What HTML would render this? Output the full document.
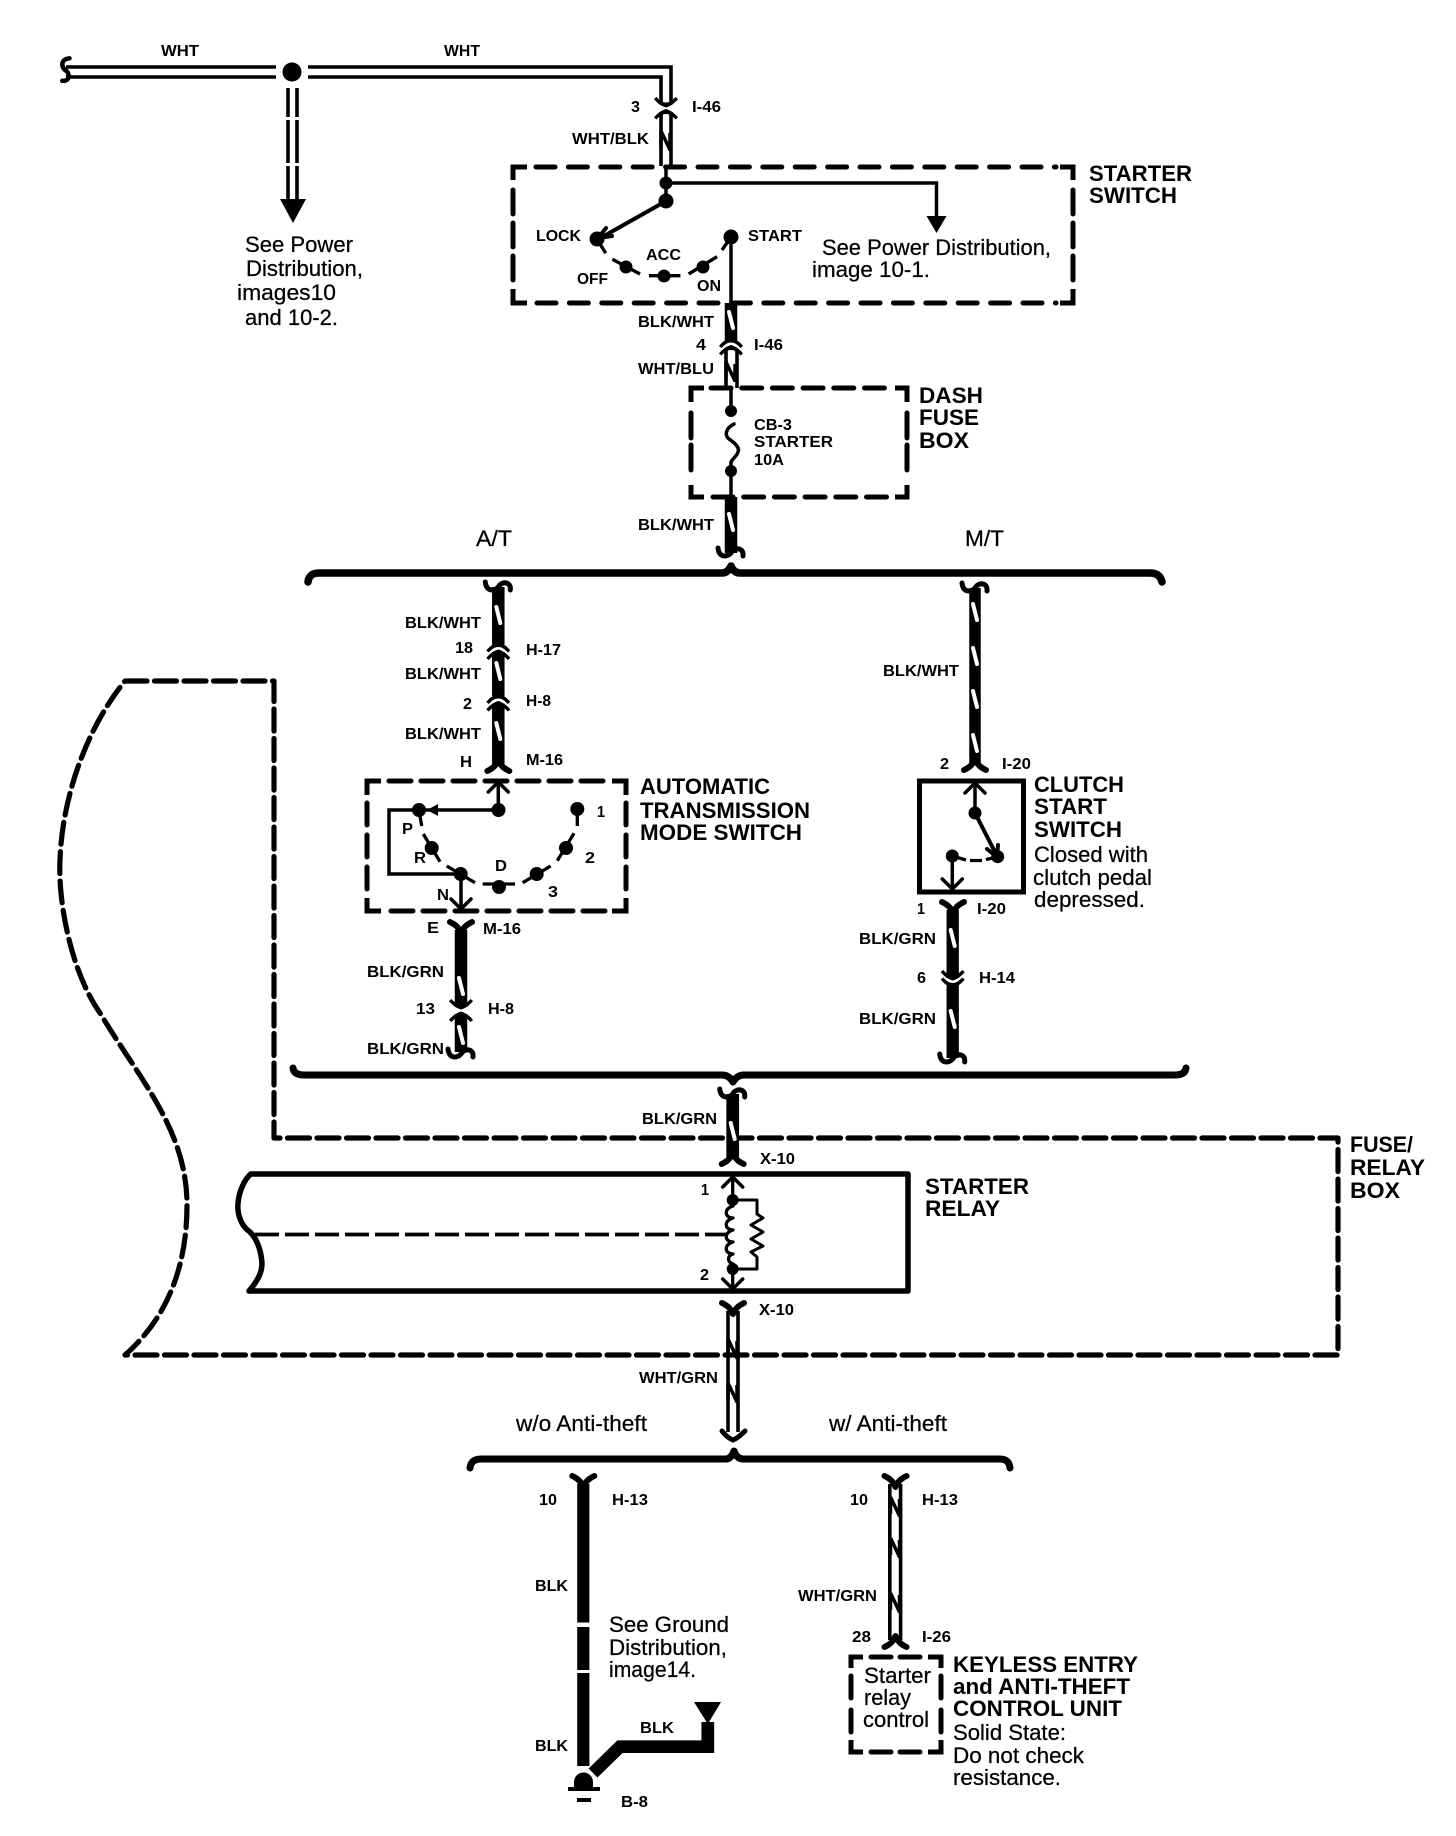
<!DOCTYPE html>
<html><head><meta charset="utf-8"><title>Starter circuit diagram</title>
<style>
html,body{margin:0;padding:0;background:#fff}
svg{display:block}
text{font-family:"Liberation Sans",Arial,sans-serif;fill:#000}
.s{font-size:16px;font-weight:bold}
.r{font-size:22px;stroke:#000;stroke-width:.25}
.b{font-size:22px;font-weight:bold}
.w{fill:none;stroke:#000;stroke-linecap:butt;stroke-linejoin:miter}
.c{fill:none;stroke:#000;stroke-linecap:round;stroke-linejoin:round}
.sl{fill:none;stroke:#fff;stroke-width:4;stroke-linecap:round}
</style></head><body>
<svg xmlns="http://www.w3.org/2000/svg" width="1456" height="1836" viewBox="0 0 1456 1836">
<defs>
<path id="fu" class="c" stroke-width="6" d="M-11 0C-7 2-3 4 0 11C3 4 7 2 11 0"/>
<path id="fd" class="c" stroke-width="6" d="M-11 0C-7-2-3-4 0-11C3-4 7-2 11 0"/>
<path id="cu" class="c" stroke-width="5" d="M-13-5C-12 4-5 5 0 0C3-6 13-6 12 3"/>
<path id="ar" d="M-12 6C-9 2-5-1 0-2.5C5-1 9 2 12 6L9.5 8C6 4 3 2.5 0 2.5C-3 2.5-6 4-9.5 8Z"/>
<path id="cup" d="M-12-6C-9-2-5 1 0 2.5C5 1 9-2 12-6L9.5-8C6-4 3-2.5 0-2.5C-3-2.5-6-4-9.5-8Z"/>
<path id="sl" class="sl" d="M-2-8L2 8"/>
<g id="nz"><path class="w" stroke-width="3.5" d="M-5-10L4 9M4-8V10M-5-10V7"/></g>
<path id="chU" class="c" stroke-width="3.5" d="M-10 10L0 0L10 10"/>
<path id="chD" class="c" stroke-width="3.5" d="M-10-10L0 0L10-10"/>
</defs>

<!-- top wires -->
<path class="w" stroke-width="3.6" d="M66 67H276M66 77H276M308 67H671V104M308 77H661V104M661 112V166M671 112V166"/>
<use href="#cu" transform="translate(65,70) rotate(90) scale(.9)"/>
<circle cx="292" cy="72" r="9.5"/>
<path class="w" stroke-width="3.6" d="M288 88V117M297 88V117M288 120V163M297 120V163M288 166V200M297 166V200"/>
<path d="M280 199H306L293 223Z"/>
<use href="#cup" x="666" y="105"/>
<use href="#ar" x="666" y="111.5"/>
<use href="#nz" x="666" y="141"/>
<text class="s" x="161" y="56" textLength="38" lengthAdjust="spacingAndGlyphs">WHT</text>
<text class="s" x="444" y="56" textLength="36" lengthAdjust="spacingAndGlyphs">WHT</text>
<text class="s" x="631" y="112" textLength="9" lengthAdjust="spacingAndGlyphs">3</text>
<text class="s" x="692" y="112" textLength="29" lengthAdjust="spacingAndGlyphs">I-46</text>
<text class="s" x="572" y="144" textLength="77" lengthAdjust="spacingAndGlyphs">WHT/BLK</text>
<text class="r" x="245" y="252" textLength="108" lengthAdjust="spacingAndGlyphs">See Power</text>
<text class="r" x="246" y="276" textLength="117" lengthAdjust="spacingAndGlyphs">Distribution,</text>
<text class="r" x="237" y="300" textLength="99" lengthAdjust="spacingAndGlyphs">images10</text>
<text class="r" x="245" y="325" textLength="93" lengthAdjust="spacingAndGlyphs">and 10-2.</text>

<!-- starter switch box -->
<path class="w" stroke-width="5" d="M513 180V167H527M1060 167H1073V180M513 289V303H527M1060 303H1073V289"/>
<path class="c" stroke-width="5" stroke-dasharray="19 13.4" d="M536 167H1056"/>
<path class="c" stroke-width="5" stroke-dasharray="19 13.4" d="M537 303H1056"/>
<path class="c" stroke-width="5" stroke-dasharray="24 9" d="M513 190V283"/>
<path class="c" stroke-width="5" stroke-dasharray="24 9" d="M1073 190V283"/>
<path class="w" stroke-width="3.5" d="M666 166V200M666 183H936.5V217"/>
<circle cx="666" cy="183" r="6.5"/><circle cx="666" cy="201" r="7.5"/>
<path d="M926.5 216H946.5L936.5 233Z"/>
<path class="c" stroke-width="4" d="M666 201L597 240M598 238L606 228M598 238L612 236"/>
<circle cx="597" cy="239" r="7.5"/><circle cx="626" cy="267" r="6.5"/><circle cx="664" cy="276" r="6.5"/><circle cx="703" cy="267" r="6.5"/><circle cx="731" cy="237" r="7.5"/>
<path class="w" stroke-width="3.4" d="M597 239L605.7 253.3M612.4 259.3L640 274M649 275.7H680.4M688.7 274L717 256.7M722 250L731 237"/>
<path class="w" stroke-width="3.5" d="M731 237V304"/>
<text class="s" x="536" y="241" textLength="45" lengthAdjust="spacingAndGlyphs">LOCK</text>
<text class="s" x="748" y="241" textLength="54" lengthAdjust="spacingAndGlyphs">START</text>
<text class="s" x="646" y="260" textLength="35" lengthAdjust="spacingAndGlyphs">ACC</text>
<text class="s" x="577" y="284" textLength="31" lengthAdjust="spacingAndGlyphs">OFF</text>
<text class="s" x="697" y="291" textLength="24" lengthAdjust="spacingAndGlyphs">ON</text>
<text class="r" x="822" y="255" textLength="229" lengthAdjust="spacingAndGlyphs">See Power Distribution,</text>
<text class="r" x="812" y="277" textLength="118" lengthAdjust="spacingAndGlyphs">image 10-1.</text>
<text class="b" x="1089" y="181" textLength="103" lengthAdjust="spacingAndGlyphs">STARTER</text>
<text class="b" x="1089" y="203" textLength="88" lengthAdjust="spacingAndGlyphs">SWITCH</text>

<!-- I-46 lower -->
<path class="w" stroke-width="12.5" d="M731 303V340"/>
<use href="#sl" x="731" y="320"/>
<use href="#ar" x="731" y="340"/>
<use href="#ar" x="731" y="347.5"/>
<path class="w" stroke-width="3.6" d="M726 349V388M737 349V388"/>
<use href="#nz" x="731" y="372"/>
<text class="s" x="638" y="327" textLength="76" lengthAdjust="spacingAndGlyphs">BLK/WHT</text>
<text class="s" x="696" y="350" textLength="10" lengthAdjust="spacingAndGlyphs">4</text>
<text class="s" x="754" y="350" textLength="29" lengthAdjust="spacingAndGlyphs">I-46</text>
<text class="s" x="638" y="374" textLength="76" lengthAdjust="spacingAndGlyphs">WHT/BLU</text>

<!-- dash fuse box -->
<path class="w" stroke-width="5" d="M691 402V388H704M895 388H907V402M691 485V497H704M895 497H907V485"/>
<path class="c" stroke-width="5" stroke-dasharray="20 10.7" d="M711 388H890"/>
<path class="c" stroke-width="5" stroke-dasharray="20 10.7" d="M713 497H890"/>
<path class="c" stroke-width="5" stroke-dasharray="25 7" d="M691 413V474"/>
<path class="c" stroke-width="5" stroke-dasharray="25 7" d="M907 413V474"/>
<path class="w" stroke-width="3.5" d="M731 388V411M731 462V497"/>
<circle cx="731" cy="411" r="6"/><circle cx="731" cy="471" r="6"/>
<path class="c" stroke-width="3.5" d="M734 424C726 428 724 435 729 439C735 443 740 448 738 452C737 456 733 458 731 462"/>
<text class="s" x="754" y="430" textLength="38" lengthAdjust="spacingAndGlyphs">CB-3</text>
<text class="s" x="754" y="447" textLength="79" lengthAdjust="spacingAndGlyphs">STARTER</text>
<text class="s" x="754" y="465" textLength="30" lengthAdjust="spacingAndGlyphs">10A</text>
<text class="b" x="919" y="403" textLength="64" lengthAdjust="spacingAndGlyphs">DASH</text>
<text class="b" x="919" y="425" textLength="60" lengthAdjust="spacingAndGlyphs">FUSE</text>
<text class="b" x="919" y="448" textLength="50" lengthAdjust="spacingAndGlyphs">BOX</text>

<path class="w" stroke-width="12.5" d="M731 497V553"/>
<use href="#sl" x="731" y="522"/>
<use href="#cu" x="731" y="553"/>
<text class="s" x="638" y="530" textLength="76" lengthAdjust="spacingAndGlyphs">BLK/WHT</text>
<text class="r" x="476" y="546" textLength="36" lengthAdjust="spacingAndGlyphs">A/T</text>
<text class="r" x="965" y="546" textLength="39" lengthAdjust="spacingAndGlyphs">M/T</text>

<!-- brace 1 -->
<path class="c" stroke-width="7.5" d="M308 582Q309 573 319 573H722Q728 573 731 566Q734 573 740 573H1150Q1160 573 1162 582"/>

<!-- AT column -->
<path class="w" stroke-width="12.5" d="M498.3 587V644.5M498.3 652V696M498.3 703.5V764"/>
<use href="#cu" x="498.3" y="587"/>
<use href="#sl" x="498.3" y="615"/><use href="#sl" x="498.3" y="671"/><use href="#sl" x="498.3" y="731"/>
<use href="#ar" x="498.3" y="644.5"/><use href="#ar" x="498.3" y="652"/>
<use href="#ar" x="498.3" y="696"/><use href="#ar" x="498.3" y="703.5"/>
<use href="#fd" x="498.3" y="771"/>
<text class="s" x="405" y="628" textLength="76" lengthAdjust="spacingAndGlyphs">BLK/WHT</text>
<text class="s" x="405" y="679" textLength="76" lengthAdjust="spacingAndGlyphs">BLK/WHT</text>
<text class="s" x="405" y="739" textLength="76" lengthAdjust="spacingAndGlyphs">BLK/WHT</text>
<text class="s" x="455" y="653" textLength="18" lengthAdjust="spacingAndGlyphs">18</text>
<text class="s" x="526" y="655" textLength="35" lengthAdjust="spacingAndGlyphs">H-17</text>
<text class="s" x="463" y="709" textLength="9" lengthAdjust="spacingAndGlyphs">2</text>
<text class="s" x="526" y="706" textLength="25" lengthAdjust="spacingAndGlyphs">H-8</text>
<text class="s" x="460" y="767" textLength="12" lengthAdjust="spacingAndGlyphs">H</text>
<text class="s" x="526" y="765" textLength="37" lengthAdjust="spacingAndGlyphs">M-16</text>

<!-- AT box -->
<path class="w" stroke-width="5" d="M367 795V781H381M612 781H626V795M367 898V911H381M612 911H626V898"/>
<path class="c" stroke-width="5" stroke-dasharray="22 10" d="M389 781H608"/>
<path class="c" stroke-width="5" stroke-dasharray="22 10" d="M391 911H608"/>
<path class="c" stroke-width="5" stroke-dasharray="22 10" d="M367 803V890"/>
<path class="c" stroke-width="5" stroke-dasharray="22 10" d="M626 803V890"/>
<path class="w" stroke-width="3.5" d="M498.3 783V810H389V874H461V909"/>
<use href="#chU" x="498.3" y="782"/>
<use href="#chD" x="461" y="909"/>
<path d="M427 810L438 804V816Z"/>
<circle cx="498.5" cy="810" r="7"/>
<circle cx="419" cy="810" r="7"/><circle cx="431.7" cy="848" r="7"/><circle cx="460.7" cy="874" r="7"/><circle cx="499" cy="887" r="7"/><circle cx="536.7" cy="874" r="7"/><circle cx="566" cy="848" r="7"/><circle cx="577.3" cy="809" r="7"/>
<path class="w" stroke-width="3.3" d="M419 810L421.7 826M423.3 834L440 861.7M446.7 866L475 882.7M482.7 884L515 884M522.7 882.7L550.7 866M557.3 860.7L574 833.3M577.3 826V809"/>
<text class="s" x="402" y="834" textLength="11" lengthAdjust="spacingAndGlyphs">P</text>
<text class="s" x="414" y="863" textLength="12" lengthAdjust="spacingAndGlyphs">R</text>
<text class="s" x="437" y="900" textLength="12" lengthAdjust="spacingAndGlyphs">N</text>
<text class="s" x="495" y="871" textLength="12" lengthAdjust="spacingAndGlyphs">D</text>
<text class="s" x="548" y="897" textLength="10" lengthAdjust="spacingAndGlyphs">3</text>
<text class="s" x="585" y="863" textLength="10" lengthAdjust="spacingAndGlyphs">2</text>
<text class="s" x="597" y="817" textLength="8" lengthAdjust="spacingAndGlyphs">1</text>
<text class="b" x="640" y="794" textLength="130" lengthAdjust="spacingAndGlyphs">AUTOMATIC</text>
<text class="b" x="640" y="818" textLength="170" lengthAdjust="spacingAndGlyphs">TRANSMISSION</text>
<text class="b" x="640" y="840" textLength="162" lengthAdjust="spacingAndGlyphs">MODE SWITCH</text>

<text class="s" x="427" y="933" textLength="12" lengthAdjust="spacingAndGlyphs">E</text>
<text class="s" x="483" y="934" textLength="38" lengthAdjust="spacingAndGlyphs">M-16</text>
<use href="#fu" x="461" y="922"/>
<path class="w" stroke-width="12.5" d="M461 930V1007M461 1014V1052"/>
<use href="#sl" x="461" y="986"/><use href="#sl" x="461" y="1035"/>
<use href="#cup" x="461" y="1007"/><use href="#ar" x="461" y="1014"/>
<use href="#cu" x="461" y="1054"/>
<text class="s" x="367" y="977" textLength="77" lengthAdjust="spacingAndGlyphs">BLK/GRN</text>
<text class="s" x="416" y="1014" textLength="19" lengthAdjust="spacingAndGlyphs">13</text>
<text class="s" x="488" y="1014" textLength="26" lengthAdjust="spacingAndGlyphs">H-8</text>
<text class="s" x="367" y="1054" textLength="77" lengthAdjust="spacingAndGlyphs">BLK/GRN</text>

<!-- MT column -->
<path class="w" stroke-width="11.5" d="M975 588V763"/>
<use href="#cu" x="975" y="588"/>
<use href="#sl" x="975" y="612"/><use href="#sl" x="975" y="656"/><use href="#sl" x="975" y="699"/><use href="#sl" x="975" y="743"/>
<use href="#fd" x="975" y="770"/>
<text class="s" x="883" y="676" textLength="76" lengthAdjust="spacingAndGlyphs">BLK/WHT</text>
<text class="s" x="940" y="769" textLength="9" lengthAdjust="spacingAndGlyphs">2</text>
<text class="s" x="1002" y="769" textLength="29" lengthAdjust="spacingAndGlyphs">I-20</text>
<rect class="w" stroke-width="5" x="919.5" y="781" width="104" height="111"/>
<path class="w" stroke-width="3.5" d="M975 783V813M952.3 856V890"/>
<use href="#chU" x="975" y="783"/>
<use href="#chD" x="952.3" y="889"/>
<path class="c" stroke-width="4" d="M975 813L997 856M987 849L997 857L998 845"/>
<circle cx="975" cy="813" r="6.5"/><circle cx="997.7" cy="856.7" r="6.5"/><circle cx="952.3" cy="856" r="6.5"/>
<path class="w" stroke-width="3.3" d="M952 856L966 860M970 860.5H982M986 859.5L997 857"/>
<text class="b" x="1034" y="792" textLength="90" lengthAdjust="spacingAndGlyphs">CLUTCH</text>
<text class="b" x="1034" y="814" textLength="73" lengthAdjust="spacingAndGlyphs">START</text>
<text class="b" x="1034" y="837" textLength="88" lengthAdjust="spacingAndGlyphs">SWITCH</text>
<text class="r" x="1034" y="862" textLength="114" lengthAdjust="spacingAndGlyphs">Closed with</text>
<text class="r" x="1033" y="885" textLength="119" lengthAdjust="spacingAndGlyphs">clutch pedal</text>
<text class="r" x="1034" y="907" textLength="111" lengthAdjust="spacingAndGlyphs">depressed.</text>
<text class="s" x="917" y="914" textLength="8" lengthAdjust="spacingAndGlyphs">1</text>
<text class="s" x="977" y="914" textLength="29" lengthAdjust="spacingAndGlyphs">I-20</text>
<use href="#fu" x="953" y="902"/>
<path class="w" stroke-width="12.3" d="M952.7 910V978M952.7 985.5V1058"/>
<use href="#sl" x="952.7" y="938"/><use href="#sl" x="952.7" y="1019"/>
<use href="#cup" x="952.7" y="978"/><use href="#cup" x="952.7" y="985.5"/>
<use href="#cu" x="952.7" y="1059"/>
<text class="s" x="859" y="944" textLength="77" lengthAdjust="spacingAndGlyphs">BLK/GRN</text>
<text class="s" x="917" y="983" textLength="9" lengthAdjust="spacingAndGlyphs">6</text>
<text class="s" x="979" y="983" textLength="36" lengthAdjust="spacingAndGlyphs">H-14</text>
<text class="s" x="859" y="1024" textLength="77" lengthAdjust="spacingAndGlyphs">BLK/GRN</text>

<!-- brace 2 -->
<path class="c" stroke-width="7" d="M293 1068Q294 1075 304 1075H722Q729 1075 733 1082Q737 1075 744 1075H1175Q1185 1075 1186 1068"/>

<!-- fuse/relay dashed -->
<path class="c" stroke-width="5.2" stroke-dasharray="22 7.5" d="M125 681H274V1138H1338V1355H125C165 1320 187 1270 187 1205C187 1130 140 1080 100 1013C70 970 58 900 60 860C62 800 85 730 125 681Z"/>
<text class="b" x="1350" y="1152" textLength="63" lengthAdjust="spacingAndGlyphs">FUSE/</text>
<text class="b" x="1350" y="1175" textLength="75" lengthAdjust="spacingAndGlyphs">RELAY</text>
<text class="b" x="1350" y="1198" textLength="50" lengthAdjust="spacingAndGlyphs">BOX</text>

<!-- X-10 top wire -->
<path class="w" stroke-width="12.7" d="M732.7 1094V1158"/>
<use href="#cu" x="732.7" y="1094"/>
<use href="#sl" x="732.7" y="1131"/>
<use href="#fd" x="732.7" y="1164"/>
<text class="s" x="642" y="1124" textLength="75" lengthAdjust="spacingAndGlyphs">BLK/GRN</text>
<text class="s" x="760" y="1164" textLength="35" lengthAdjust="spacingAndGlyphs">X-10</text>

<!-- relay -->
<path class="c" stroke-width="5.5" d="M250.7 1174H908V1291H249L253 1286C259 1278 263 1270 261.7 1260C260 1246 256 1238 250 1232C241 1226 237 1214 238 1203C239 1192 244 1180 250.7 1174Z"/>
<path class="w" stroke-width="3.8" stroke-dasharray="24 6" d="M255 1234.5H726"/>
<path class="w" stroke-width="3.3" d="M732.7 1178V1200M732.7 1269V1289"/>
<use href="#chU" x="732.7" y="1177"/>
<use href="#chD" x="732.7" y="1289"/>
<circle cx="732.7" cy="1200" r="6"/><circle cx="732.7" cy="1269" r="6"/>
<path class="c" stroke-width="3.3" d="M733 1206C724 1208 724 1218 733 1218C724 1220 724 1230 733 1230C724 1232 724 1242 733 1242C724 1244 724 1254 733 1254C727 1256 727 1262 733 1264"/>
<path class="c" stroke-width="3" d="M733 1200H757V1214L763 1218L751 1225L763 1232L751 1239L763 1246L751 1252L757 1257V1269H733"/>
<text class="s" x="701" y="1195" textLength="8" lengthAdjust="spacingAndGlyphs">1</text>
<text class="s" x="700" y="1280" textLength="9" lengthAdjust="spacingAndGlyphs">2</text>
<text class="b" x="925" y="1194" textLength="104" lengthAdjust="spacingAndGlyphs">STARTER</text>
<text class="b" x="925" y="1216" textLength="75" lengthAdjust="spacingAndGlyphs">RELAY</text>

<!-- X-10 lower wire -->
<use href="#fu" x="733" y="1303"/>
<path class="w" stroke-width="3.6" d="M728 1311V1432M738 1311V1432"/>
<use href="#nz" x="733" y="1349"/><use href="#nz" x="733" y="1393"/>
<path class="c" stroke-width="5" d="M722 1431C726 1436 730 1439 733 1440C736 1439 740 1436 745 1431"/>
<text class="s" x="759" y="1315" textLength="35" lengthAdjust="spacingAndGlyphs">X-10</text>
<text class="s" x="639" y="1383" textLength="79" lengthAdjust="spacingAndGlyphs">WHT/GRN</text>
<text class="r" x="516" y="1431" textLength="131" lengthAdjust="spacingAndGlyphs">w/o Anti-theft</text>
<text class="r" x="829" y="1431" textLength="118" lengthAdjust="spacingAndGlyphs">w/ Anti-theft</text>

<!-- brace 3 -->
<path class="c" stroke-width="7" d="M470 1468Q471 1459 481 1459H726Q731 1459 734 1451Q737 1459 743 1459H1000Q1009 1459 1010 1468"/>

<!-- BLK -->
<use href="#fu" x="583.3" y="1476"/>
<path class="w" stroke-width="12.2" d="M583.3 1484V1622.5M583.3 1627V1670M583.3 1673V1766"/>
<path d="M574 1788V1782A9.5 9.5 0 0 1 593 1782V1788Z"/>
<path class="w" stroke-width="4" d="M568 1789H600M577 1800H591"/>
<path class="w" stroke-width="12.7" d="M593 1773L620 1746.7H707.8V1722"/>
<path d="M694 1702H721L707.8 1724Z"/>
<text class="s" x="539" y="1505" textLength="18" lengthAdjust="spacingAndGlyphs">10</text>
<text class="s" x="612" y="1505" textLength="36" lengthAdjust="spacingAndGlyphs">H-13</text>
<text class="s" x="535" y="1591" textLength="33" lengthAdjust="spacingAndGlyphs">BLK</text>
<text class="s" x="535" y="1751" textLength="33" lengthAdjust="spacingAndGlyphs">BLK</text>
<text class="s" x="640" y="1733" textLength="34" lengthAdjust="spacingAndGlyphs">BLK</text>
<text class="s" x="621" y="1807" textLength="27" lengthAdjust="spacingAndGlyphs">B-8</text>
<text class="r" x="609" y="1632" textLength="120" lengthAdjust="spacingAndGlyphs">See Ground</text>
<text class="r" x="609" y="1655" textLength="118" lengthAdjust="spacingAndGlyphs">Distribution,</text>
<text class="r" x="609" y="1677" textLength="87" lengthAdjust="spacingAndGlyphs">image14.</text>

<!-- WHT/GRN right -->
<use href="#fu" x="895.5" y="1476"/>
<path class="w" stroke-width="3.6" d="M889.8 1484V1640M900.6 1484V1640"/>
<use href="#nz" x="895.5" y="1507"/><use href="#nz" x="895.5" y="1548"/><use href="#nz" x="895.5" y="1603"/>
<use href="#fd" x="895.5" y="1647"/>
<text class="s" x="850" y="1505" textLength="18" lengthAdjust="spacingAndGlyphs">10</text>
<text class="s" x="922" y="1505" textLength="36" lengthAdjust="spacingAndGlyphs">H-13</text>
<text class="s" x="798" y="1601" textLength="79" lengthAdjust="spacingAndGlyphs">WHT/GRN</text>
<text class="s" x="852" y="1642" textLength="19" lengthAdjust="spacingAndGlyphs">28</text>
<text class="s" x="922" y="1642" textLength="29" lengthAdjust="spacingAndGlyphs">I-26</text>

<path class="w" stroke-width="5" d="M851 1668V1657H863M928 1657H941V1668M851 1740V1752H863M928 1752H941V1740"/>
<path class="c" stroke-width="5" stroke-dasharray="20 9" d="M871 1657H923"/>
<path class="c" stroke-width="5" stroke-dasharray="20 9" d="M871 1752H923"/>
<path class="c" stroke-width="5" stroke-dasharray="22 12" d="M851 1676V1733"/>
<path class="c" stroke-width="5" stroke-dasharray="22 12" d="M941 1676V1733"/>
<text class="r" x="864" y="1683" textLength="67" lengthAdjust="spacingAndGlyphs">Starter</text>
<text class="r" x="864" y="1705" textLength="47" lengthAdjust="spacingAndGlyphs">relay</text>
<text class="r" x="863" y="1727" textLength="66" lengthAdjust="spacingAndGlyphs">control</text>
<text class="b" x="953" y="1672" textLength="185" lengthAdjust="spacingAndGlyphs">KEYLESS ENTRY</text>
<text class="b" x="953" y="1694" textLength="177" lengthAdjust="spacingAndGlyphs">and ANTI-THEFT</text>
<text class="b" x="953" y="1716" textLength="169" lengthAdjust="spacingAndGlyphs">CONTROL UNIT</text>
<text class="r" x="953" y="1740" textLength="113" lengthAdjust="spacingAndGlyphs">Solid State:</text>
<text class="r" x="953" y="1763" textLength="131" lengthAdjust="spacingAndGlyphs">Do not check</text>
<text class="r" x="953" y="1785" textLength="108" lengthAdjust="spacingAndGlyphs">resistance.</text>
</svg>
</body></html>
